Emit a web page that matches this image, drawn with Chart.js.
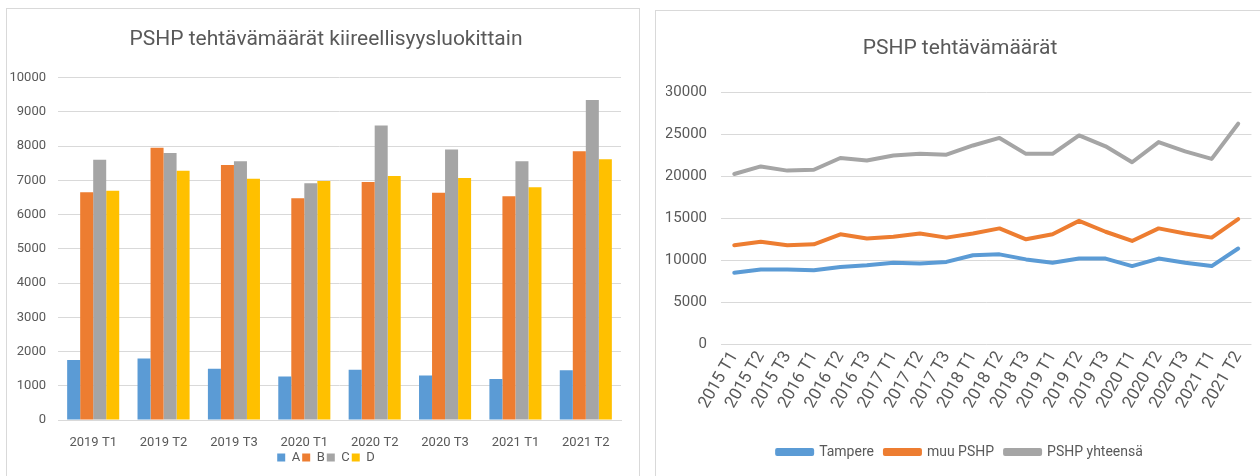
<!DOCTYPE html>
<html><head><meta charset="utf-8">
<script src="https://cdn.jsdelivr.net/npm/chart.js@4.4.0/dist/chart.umd.min.js"></script>
<style>
html,body{margin:0;padding:0;background:#fff;width:1260px;height:476px;overflow:hidden;}
.box{position:absolute;border:1px solid #d9d9d9;background:#fff;overflow:hidden;}
#b1{left:6px;top:8px;width:632px;height:480px;}
#b2{left:655px;top:10px;width:620px;height:480px;}
canvas{position:absolute;left:0;top:0;}
</style></head><body>
<div class="box" id="b1"><canvas id="c1" width="632" height="467"></canvas></div>
<div class="box" id="b2"><canvas id="c2" width="604" height="465"></canvas></div>
<script>
// ---- data ----
const barCategories = ['2019 T1','2019 T2','2019 T3','2020 T1','2020 T2','2020 T3','2021 T1','2021 T2'];
const seriesA = [1750, 1800, 1500, 1270, 1470, 1300, 1200, 1450];
const seriesB = [6650, 7950, 7450, 6480, 6950, 6640, 6540, 7850];
const seriesC = [7600, 7800, 7560, 6920, 8600, 7900, 7560, 9350];
const seriesD = [6700, 7280, 7050, 6980, 7130, 7070, 6800, 7620];
const barTicks = [0,1000,2000,3000,4000,5000,6000,7000,8000,9000,10000];

const lineCategories = ['2015 T1','2015 T2','2015 T3','2016 T1','2016 T2','2016 T3','2017 T1','2017 T2','2017 T3','2018 T1','2018 T2','2018 T3','2019 T1','2019 T2','2019 T3','2020 T1','2020 T2','2020 T3','2021 T1','2021 T2'];
const tampere  = [8500, 8900, 8900, 8800, 9200, 9400, 9700, 9600, 9800, 10600, 10700, 10100, 9700, 10200, 10200, 9300, 10200, 9700, 9300, 11400];
const muuPSHP  = [11800, 12200, 11800, 11900, 13100, 12600, 12800, 13200, 12700, 13200, 13800, 12500, 13100, 14700, 13400, 12300, 13800, 13200, 12700, 14900];
const yhteensa = [20300, 21200, 20700, 20800, 22200, 21900, 22500, 22700, 22600, 23700, 24600, 22700, 22700, 24900, 23600, 21700, 24100, 23000, 22100, 26300];
const lineTicks = [0,5000,10000,15000,20000,25000,30000];

const FAM = "Roboto, 'Noto Sans', sans-serif";
const TXT = '#595959', GRID = '#d9d9d9';
const plain = v => String(v);
// let y tick labels extend into the layout padding (no clipping to the axis box)
const noLabelClip = { id:'noLabelClip', afterLayout(chart){ const y = chart.scales.y; if (y) y._computeLabelArea = () => undefined; } };

new Chart(document.getElementById('c1'), {
  type: 'bar',
  data: { labels: barCategories, datasets: [
    {label:'A', data: seriesA, backgroundColor:'#5B9BD5'},
    {label:'B', data: seriesB, backgroundColor:'#ED7D31'},
    {label:'C', data: seriesC, backgroundColor:'#A5A5A5'},
    {label:'D', data: seriesD, backgroundColor:'#FFC000'}
  ]},
  plugins:[noLabelClip],
  options: {
    responsive:false, animation:false, devicePixelRatio:1,
    layout:{padding:{left:24,right:18,top:0,bottom:2}},
    datasets:{bar:{categoryPercentage:0.74, barPercentage:1}},
    plugins:{
      title:{display:true,text:'PSHP tehtävämäärät kiireellisyysluokittain',color:TXT,font:{family:FAM,size:21,weight:'normal'},padding:{top:18,bottom:25.5}},
      legend:{position:'bottom',labels:{boxWidth:8,boxHeight:8,padding:2,color:TXT,font:{family:FAM,size:13}}},
      tooltip:{enabled:false}
    },
    scales:{
      x:{grid:{display:false,drawTicks:false},border:{color:GRID},
         ticks:{color:TXT,font:{family:FAM,size:13},padding:15},
         afterFit:s=>{s.height=29;}},
      y:{min:0,max:10000,afterBuildTicks:s=>{s.ticks=barTicks.map(v=>({value:v}));},
         ticks:{color:TXT,font:{family:FAM,size:13},padding:12,callback:plain},
         grid:{color:GRID,drawTicks:false},border:{display:false},
         afterFit:s=>{s.width=27;}}
    }
  }
});

new Chart(document.getElementById('c2'), {
  type: 'line',
  data: { labels: lineCategories, datasets: [
    {label:'Tampere', data: tampere, borderColor:'#5B9BD5', backgroundColor:'#5B9BD5'},
    {label:'muu PSHP', data: muuPSHP, borderColor:'#ED7D31', backgroundColor:'#ED7D31'},
    {label:'PSHP yhteensä', data: yhteensa, borderColor:'#A5A5A5', backgroundColor:'#A5A5A5'}
  ]},
  options: {
    responsive:false, animation:false, devicePixelRatio:1,
    layout:{padding:{left:10,right:6,top:0,bottom:7}},
    elements:{line:{borderWidth:4,tension:0,borderCapStyle:'round',borderJoinStyle:'round'},point:{radius:0}},
    plugins:{
      title:{display:true,text:'PSHP tehtävämäärät',color:TXT,font:{family:FAM,size:21,weight:'normal'},padding:{top:25,bottom:31.5}},
      legend:{position:'bottom',labels:{boxWidth:35,boxHeight:4,padding:11,color:TXT,font:{family:FAM,size:14}}},
      tooltip:{enabled:false}
    },
    scales:{
      x:{offset:true,grid:{display:false,drawTicks:false},border:{display:false},
         ticks:{color:TXT,font:{family:FAM,size:17},padding:4,minRotation:60,maxRotation:60,autoSkip:false},
         afterFit:s=>{s.height=90;}},
      y:{min:0,max:30000,afterBuildTicks:s=>{s.ticks=lineTicks.map(v=>({value:v}));},
         ticks:{color:TXT,font:{family:FAM,size:15},padding:14,callback:plain},
         grid:{color:GRID,drawTicks:false},border:{display:false},
         afterFit:s=>{s.width=55;}}
    }
  }
});
</script>
</body></html>
